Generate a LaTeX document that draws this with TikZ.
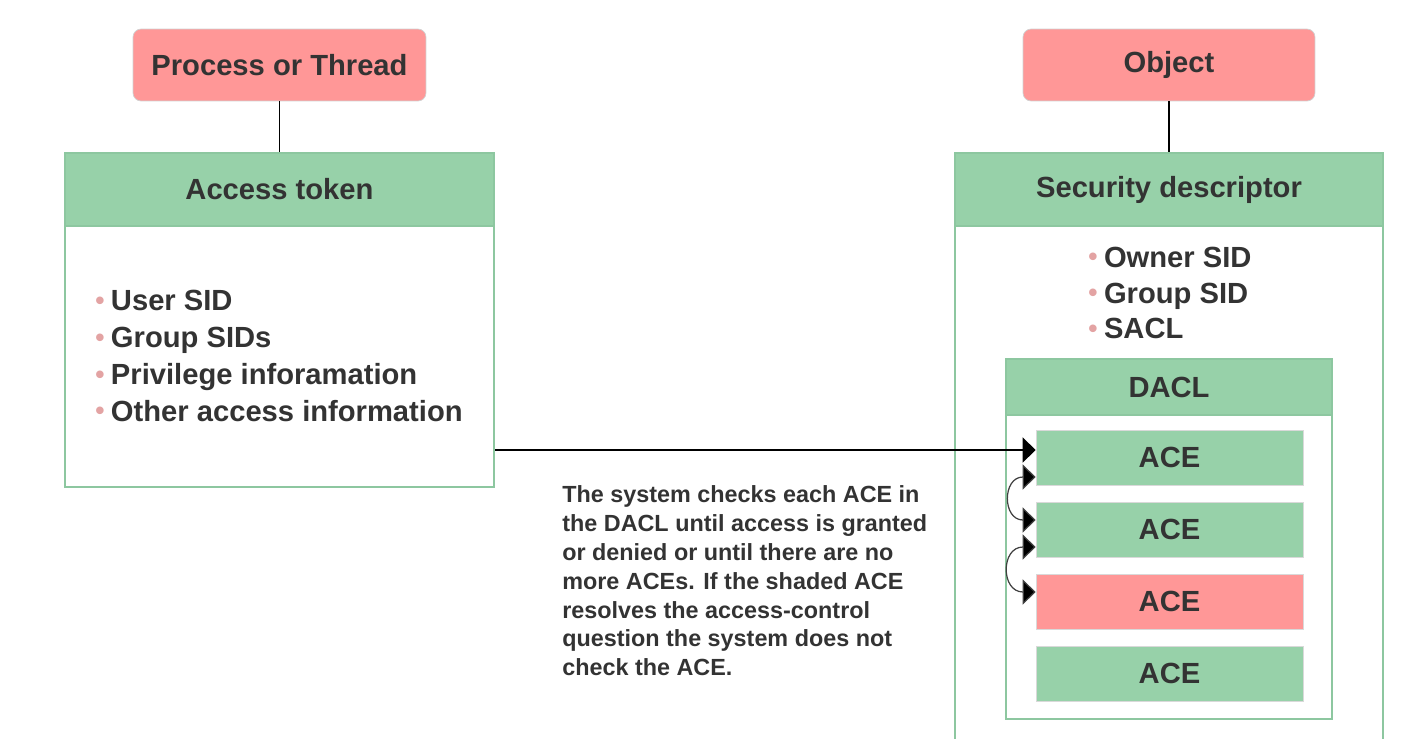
\documentclass[tikz,border=0pt]{standalone}
\usepackage{fontspec}
\setmainfont{Liberation Sans}
\usetikzlibrary{arrows.meta}
\definecolor{boxred}{HTML}{FF9797}
\definecolor{boxgreen}{HTML}{97D1A9}
\definecolor{linegreen}{HTML}{8DC7A0}
\definecolor{dotpink}{HTML}{E3A3A3}
\definecolor{ink}{HTML}{333333}
\newcommand{\bigtext}{\bfseries\fontsize{16.6}{21}\selectfont}
\newcommand{\bul}{\textcolor{dotpink}{\raisebox{0.05em}{\fontsize{15}{15}\selectfont\textbullet}}\hspace{0.22em}}
\tikzset{
  roundbox/.style={draw=black!18, fill=boxred, rounded corners=0.16cm, text=ink, font=\bigtext,
    minimum height=1.44cm},
  headbox/.style={draw=linegreen, fill=boxgreen, text=ink, font=\bigtext, line width=0.8pt},
  bodybox/.style={draw=linegreen, fill=white, line width=1.2pt},
  acebox/.style={draw=black!15, text=ink, font=\bigtext, minimum width=5.34cm, minimum height=1.1cm},
  listtext/.style={align=left, text=ink, inner sep=0pt},
  tip/.style={-{Triangle[length=0.26cm,width=0.5cm,fill=black]}},
  twotips/.style={{Triangle[length=0.26cm,width=0.5cm,fill=black]}-{Triangle[length=0.26cm,width=0.5cm,fill=black]}},
}
\begin{document}
\begin{tikzpicture}[x=0.02cm, y=-0.02cm]
  \useasboundingbox (0,0) rectangle (1411,738);
  \draw
    (279.5,65) node[roundbox, minimum width=5.86cm] (proc) {Process or Thread}
    (279.5,356.5) node[bodybox, minimum width=8.58cm, minimum height=5.22cm] (tokbody) {}
    (279.5,189.5) node[headbox, minimum width=8.58cm, minimum height=1.46cm] (tokhead) {Access token}
    (95,356) node[listtext, anchor=west, font=\bfseries\fontsize{16.6}{21}\selectfont] (toklist)
      {\bul User SID\\ \bul Group SIDs\\ \bul Privilege inforamation\\ \bul Other access information}
    (1169,65) node[roundbox, minimum width=5.84cm] (obj) {Object}
    (1169,488) node[bodybox, minimum width=8.56cm, minimum height=10.48cm] (sdbody) {}
    (1169,189.5) node[headbox, minimum width=8.56cm, minimum height=1.46cm] (sdhead) {Security descriptor}
    (1088,293) node[listtext, anchor=west, font=\bfseries\fontsize{16.6}{20.4}\selectfont] (sdlist)
      {\bul Owner SID\\ \bul Group SID\\ \bul SACL}
    (1169,567) node[bodybox, minimum width=6.52cm, minimum height=6.08cm] (daclbody) {}
    (1169,387) node[headbox, minimum width=6.52cm, minimum height=1.12cm] (daclhead) {DACL}
    (1169.5,457.5) node[acebox, fill=boxgreen] (ace1) {ACE}
    (1169.5,529.5) node[acebox, fill=boxgreen] (ace2) {ACE}
    (1169.5,601.5) node[acebox, fill=boxred] (ace3) {ACE}
    (1169.5,673.5) node[acebox, fill=boxgreen] (ace4) {ACE}
    (562,581) node[listtext, anchor=west, font=\bfseries\fontsize{13.3}{16.4}\selectfont] (note)
      {The system checks each ACE in\\ the DACL until access is granted\\ or denied or until there are no\\
       more ACEs. If the shaded ACE\\ resolves the access-control\\ question the system does not\\ check the ACE.};
  \coordinate (hit) at ([yshift=0.15cm]ace1.west);
  \begin{scope}[line width=0.8pt]
    \draw (proc) to (tokhead);
    \draw (obj) to (sdhead);
    \draw[tip] (tokbody.east |- hit) to (hit);
  \end{scope}
  \begin{scope}[twotips, black!75, line width=0.7pt, looseness=2]
    \draw ([yshift=-0.39cm]ace1.west) to[out=180, in=180] ([yshift=0.19cm]ace2.west);
    \draw ([yshift=-0.35cm]ace2.west) to[out=180, in=180] ([yshift=0.19cm]ace3.west);
  \end{scope}
\end{tikzpicture}
\end{document}
